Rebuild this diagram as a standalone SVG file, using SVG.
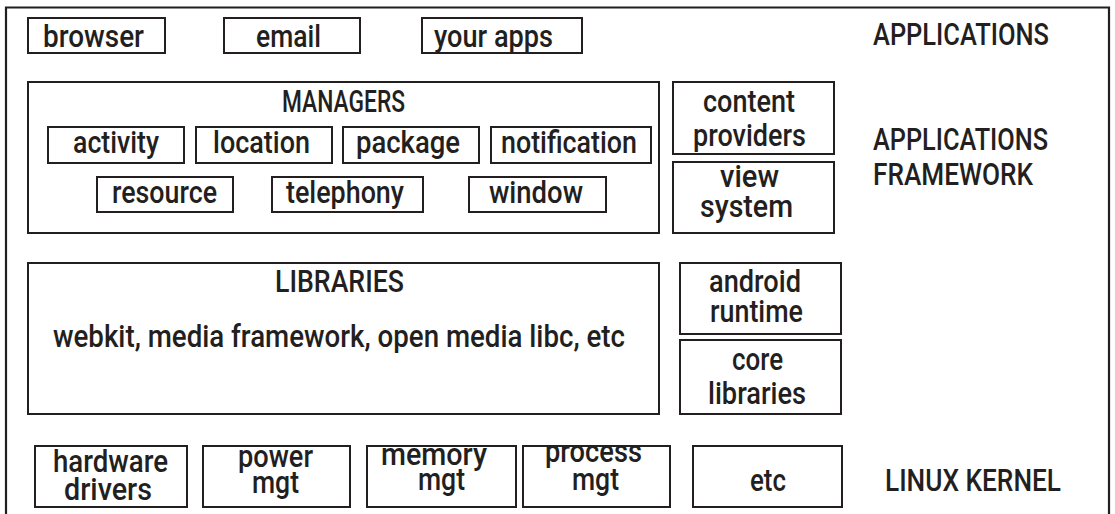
<svg xmlns="http://www.w3.org/2000/svg" width="1115" height="514" viewBox="0 0 1115 514">
<style>
.b{fill:#fff;stroke:#231f20;stroke-width:2}
.f{fill:none;stroke:#231f20;stroke-width:2.2}
text{font-family:Roboto,"Liberation Sans",Arial,sans-serif;font-weight:500;font-size:31.5px;fill:#231f20}
</style>
<rect width="1115" height="514" fill="#fff"/>
<g id="frame"><path class="f" d="M6,514 V7.5 H1109 V514"/></g>
<g id="connectors"></g>
<g id="browser"><rect class="b" x="28" y="18" width="137" height="35"/><text x="43" y="47" textLength="101" lengthAdjust="spacingAndGlyphs">browser</text></g>
<g id="email"><rect class="b" x="224" y="18" width="136" height="35"/><text x="256" y="47" textLength="65" lengthAdjust="spacingAndGlyphs">email</text></g>
<g id="yourapps"><rect class="b" x="422" y="18" width="160" height="35"/><text x="434" y="47" textLength="119" lengthAdjust="spacingAndGlyphs">your apps</text></g>
<g id="lbl-applications"><text x="873" y="45" textLength="176" lengthAdjust="spacingAndGlyphs">APPLICATIONS</text></g>
<g id="managers"><rect class="b" x="28" y="82" width="631" height="151"/><text x="282" y="112" textLength="123" lengthAdjust="spacingAndGlyphs">MANAGERS</text></g>
<g id="activity"><rect class="b" x="48" y="127" width="136" height="36"/><text x="73" y="153" textLength="86" lengthAdjust="spacingAndGlyphs">activity</text></g>
<g id="location"><rect class="b" x="196" y="127" width="136" height="36"/><text x="213" y="153" textLength="97" lengthAdjust="spacingAndGlyphs">location</text></g>
<g id="package"><rect class="b" x="343" y="127" width="136" height="36"/><text x="356" y="153" textLength="104" lengthAdjust="spacingAndGlyphs">package</text></g>
<g id="notification"><rect class="b" x="491" y="127" width="160" height="36"/><text x="501" y="153" textLength="136" lengthAdjust="spacingAndGlyphs">notification</text></g>
<g id="resource"><rect class="b" x="97" y="177" width="136" height="35"/><text x="112" y="203" textLength="105" lengthAdjust="spacingAndGlyphs">resource</text></g>
<g id="telephony"><rect class="b" x="272" y="177" width="151" height="35"/><text x="286" y="203" textLength="118" lengthAdjust="spacingAndGlyphs">telephony</text></g>
<g id="window"><rect class="b" x="469" y="177" width="137" height="35"/><text x="489" y="203" textLength="94" lengthAdjust="spacingAndGlyphs">window</text></g>
<g id="contentproviders"><rect class="b" x="673" y="82" width="161" height="72"/><text x="703" y="112" textLength="92" lengthAdjust="spacingAndGlyphs">content</text><text x="693" y="146" textLength="113" lengthAdjust="spacingAndGlyphs">providers</text></g>
<g id="viewsystem"><rect class="b" x="673" y="162" width="161" height="71"/><text x="720" y="187" textLength="59" lengthAdjust="spacingAndGlyphs">view</text><text x="700" y="217" textLength="93" lengthAdjust="spacingAndGlyphs">system</text></g>
<g id="lbl-framework"><text x="873" y="150" textLength="175" lengthAdjust="spacingAndGlyphs">APPLICATIONS</text><text x="873" y="185" textLength="160" lengthAdjust="spacingAndGlyphs">FRAMEWORK</text></g>
<g id="libraries"><rect class="b" x="28" y="263" width="631" height="151"/><text x="275" y="292" textLength="129" lengthAdjust="spacingAndGlyphs">LIBRARIES</text><text x="53" y="347" textLength="572" lengthAdjust="spacingAndGlyphs">webkit, media framework, open media libc, etc</text></g>
<g id="androidruntime"><rect class="b" x="680" y="263" width="161" height="71"/><text x="709" y="292" textLength="92" lengthAdjust="spacingAndGlyphs">android</text><text x="710" y="322" textLength="93" lengthAdjust="spacingAndGlyphs">runtime</text></g>
<g id="corelibraries"><rect class="b" x="680" y="340" width="161" height="74"/><text x="732" y="370" textLength="51" lengthAdjust="spacingAndGlyphs">core</text><text x="708" y="404" textLength="98" lengthAdjust="spacingAndGlyphs">libraries</text></g>
<g id="hardwaredrivers"><rect class="b" x="35" y="446" width="152" height="61"/><text x="53" y="472" textLength="115" lengthAdjust="spacingAndGlyphs">hardware</text><text x="64" y="500" textLength="88" lengthAdjust="spacingAndGlyphs">drivers</text></g>
<g id="powermgt"><rect class="b" x="203" y="446" width="147" height="61"/><text x="238" y="467" textLength="75" lengthAdjust="spacingAndGlyphs">power</text><text x="252" y="493" textLength="47" lengthAdjust="spacingAndGlyphs">mgt</text></g>
<g id="memorymgt"><rect class="b" x="367" y="446" width="149" height="61"/><text x="381" y="465" textLength="106" lengthAdjust="spacingAndGlyphs">memory</text><text x="418" y="490" textLength="47" lengthAdjust="spacingAndGlyphs">mgt</text></g>
<g id="processmgt"><rect class="b" x="523" y="446" width="147" height="61"/><text x="545" y="462" textLength="97" lengthAdjust="spacingAndGlyphs">process</text><text x="572" y="490" textLength="47" lengthAdjust="spacingAndGlyphs">mgt</text></g>
<g id="etc"><rect class="b" x="693" y="446" width="149" height="61"/><text x="750" y="491" textLength="36" lengthAdjust="spacingAndGlyphs">etc</text></g>
<g id="lbl-kernel"><text x="885" y="491" textLength="176" lengthAdjust="spacingAndGlyphs">LINUX KERNEL</text></g>
</svg>
